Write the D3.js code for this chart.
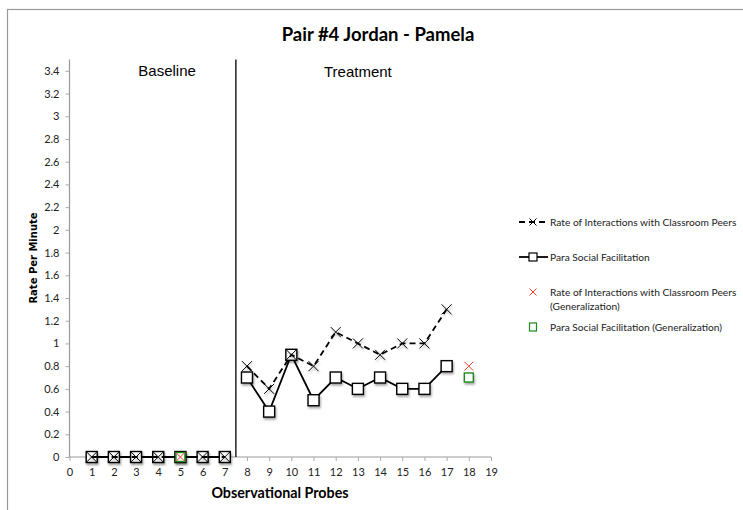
<!DOCTYPE html>
<html>
<head>
<meta charset="utf-8">
<script src="https://cdn.jsdelivr.net/npm/d3@7"></script>
<style>
  body { margin: 0; background: #fff; }
  svg { display: block; }
  .tick-label { font-family: Lato, "Open Sans", sans-serif; font-size: 11px; fill: #222; }
  .legend-text { font-family: Lato, "Open Sans", sans-serif; font-size: 10.2px; fill: #222; }
</style>
</head>
<body>
<div id="chart"></div>
<script>
// Data
const baselineProbes = [1, 2, 3, 4, 5, 6, 7];
const treatmentProbes = [8, 9, 10, 11, 12, 13, 14, 15, 16, 17];
const peersBaseline = [0, 0, 0, 0, 0, 0, 0];
const peersTreatment = [0.8, 0.6, 0.9, 0.8, 1.1, 1.0, 0.9, 1.0, 1.0, 1.3];
const paraBaseline = [0, 0, 0, 0, 0, 0, 0];
const paraTreatment = [0.7, 0.4, 0.9, 0.5, 0.7, 0.6, 0.7, 0.6, 0.6, 0.8];
const genProbes = [5, 18];
const peersGen = [0, 0.8];
const paraGen = [0, 0.7];
const xTicks = d3.range(0, 20);
const yTicks = [0, 0.2, 0.4, 0.6, 0.8, 1, 1.2, 1.4, 1.6, 1.8, 2, 2.2, 2.4, 2.6, 2.8, 3, 3.2, 3.4];
const phaseChange = 7.5;
const legendLabels = [
  ['Rate of Interactions with Classroom Peers'],
  ['Para Social Facilitation'],
  ['Rate of Interactions with Classroom Peers', '(Generalization)'],
  ['Para Social Facilitation (Generalization)']
];

const width = 743, height = 510;

const svg = d3.select('#chart').append('svg')
    .attr('width', width)
    .attr('height', height);

// drop shadow for the markers
const defs = svg.append('defs');
defs.append('filter')
    .attr('id', 'shadow')
    .attr('x', '-50%').attr('y', '-50%')
    .attr('width', '200%').attr('height', '200%')
  .append('feDropShadow')
    .attr('dx', 1).attr('dy', 2)
    .attr('stdDeviation', 0.8)
    .attr('flood-color', '#000')
    .attr('flood-opacity', 0.35);

// outer frame
svg.append('rect')
    .attr('x', 7.5).attr('y', 9.5)
    .attr('width', 800).attr('height', 600)
    .attr('fill', 'none')
    .attr('stroke', '#999')
    .attr('stroke-width', 1.2);

const x = d3.scaleLinear().domain([0, 19]).range([69.5, 491]);
const y = d3.scaleLinear().domain([0, 3.5]).range([457, 59.5]);

// title
svg.append('text')
    .attr('x', 378).attr('y', 41)
    .attr('text-anchor', 'middle')
    .style('font-family', 'Lato, sans-serif')
    .style('font-weight', 'bold')
    .style('font-size', '18.5px')
    .text('Pair #4 Jordan - Pamela');

// y axis
const yAxis = d3.axisLeft(y).tickValues(yTicks).tickSize(4).tickPadding(6)
    .tickFormat(d3.format('~g'));
const yAxisG = svg.append('g')
    .attr('transform', `translate(${x(0)},0)`)
    .call(yAxis);
yAxisG.select('.domain').attr('stroke', '#999').attr('stroke-width', 1.2)
    .attr('d', `M0,${y(3.5)}V${y(0)}`);
yAxisG.selectAll('.tick line').attr('stroke', '#aaa');
yAxisG.selectAll('.tick text').attr('class', 'tick-label').attr('fill', null);

// x axis
const xAxis = d3.axisBottom(x).tickValues(xTicks).tickSize(4).tickPadding(7);
const xAxisG = svg.append('g')
    .attr('transform', `translate(0,${y(0)})`)
    .call(xAxis);
xAxisG.select('.domain').attr('stroke', '#999').attr('stroke-width', 1.2)
    .attr('d', `M${x(0)},0H${x(19)}`);
xAxisG.selectAll('.tick line').attr('stroke', '#aaa');
xAxisG.selectAll('.tick text').attr('class', 'tick-label').attr('fill', null);

// axis titles
svg.append('text')
    .attr('x', 280).attr('y', 498)
    .attr('text-anchor', 'middle')
    .style('font-family', 'Lato, sans-serif')
    .style('font-weight', 'bold')
    .style('font-size', '14.3px')
    .text('Observational Probes');

svg.append('text')
    .attr('transform', `translate(37,${258}) rotate(-90)`)
    .attr('text-anchor', 'middle')
    .style('font-family', '"DejaVu Sans", sans-serif')
    .style('font-weight', 'bold')
    .style('font-size', '10px')
    .text('Rate Per Minute');

// phase change line
svg.append('line')
    .attr('x1', x(phaseChange)).attr('x2', x(phaseChange))
    .attr('y1', y(3.5)).attr('y2', y(0))
    .attr('stroke', '#000')
    .attr('stroke-width', 1.3);

svg.append('text')
    .attr('x', x(4.4)).attr('y', 76)
    .attr('text-anchor', 'middle')
    .style('font-family', '"Liberation Sans", Arial, sans-serif')
    .style('font-size', '15px')
    .text('Baseline');

svg.append('text')
    .attr('x', x(13)).attr('y', 77)
    .attr('text-anchor', 'middle')
    .style('font-family', '"Liberation Sans", Arial, sans-serif')
    .style('font-size', '15px')
    .text('Treatment');

const line = d3.line().x(d => x(d[0])).y(d => y(d[1]));
const zip = (a, b) => a.map((v, i) => [v, b[i]]);

const paraSegments = [zip(baselineProbes, paraBaseline), zip(treatmentProbes, paraTreatment)];
const peersSegments = [zip(baselineProbes, peersBaseline), zip(treatmentProbes, peersTreatment)];

// Para Social Facilitation: solid line + squares
svg.selectAll('.para-line')
    .data(paraSegments)
    .join('path')
    .attr('class', 'para-line')
    .attr('d', line)
    .attr('fill', 'none')
    .attr('stroke', '#000')
    .attr('stroke-width', 1.8);

const sq = 11;
svg.append('g').attr('filter', 'url(#shadow)')
    .selectAll('rect')
    .data(paraSegments.flat())
    .join('rect')
    .attr('x', d => x(d[0]) - sq / 2)
    .attr('y', d => y(d[1]) - sq / 2)
    .attr('width', sq).attr('height', sq)
    .attr('fill', '#fff')
    .attr('stroke', '#000')
    .attr('stroke-width', 1.4);

// Rate of Interactions: dashed line + crosses
svg.selectAll('.peers-line')
    .data(peersSegments)
    .join('path')
    .attr('class', 'peers-line')
    .attr('d', line)
    .attr('fill', 'none')
    .attr('stroke', '#000')
    .attr('stroke-width', 1.8)
    .attr('stroke-dasharray', '6,4');

const cross = (s) => `M${-s},${-s}L${s},${s}M${-s},${s}L${s},${-s}`;
svg.append('g').attr('filter', 'url(#shadow)')
    .selectAll('path')
    .data(peersSegments.flat())
    .join('path')
    .attr('transform', d => `translate(${x(d[0])},${y(d[1])})`)
    .attr('d', cross(5))
    .attr('fill', 'none')
    .attr('stroke', '#000')
    .attr('stroke-width', 1);

// Generalization probes
const gsq = 9;
svg.append('g').attr('filter', 'url(#shadow)')
    .selectAll('rect')
    .data(zip(genProbes, paraGen))
    .join('rect')
    .attr('x', d => x(d[0]) - gsq / 2)
    .attr('y', d => y(d[1]) - gsq / 2)
    .attr('width', gsq).attr('height', gsq)
    .attr('fill', '#fff')
    .attr('stroke', '#1a8a1a')
    .attr('stroke-width', 1.4);

svg.append('g')
    .selectAll('path')
    .data(zip(genProbes, peersGen))
    .join('path')
    .attr('transform', d => `translate(${x(d[0])},${y(d[1])})`)
    .attr('d', cross(4.5))
    .attr('fill', 'none')
    .attr('stroke', '#e8402a')
    .attr('stroke-width', 1);

// legend
const legend = svg.append('g');
const legendY = [222, 257, 292, 327];
const textX = 550, symX = 533;

legend.append('line')
    .attr('x1', 519).attr('x2', 548)
    .attr('y1', legendY[0]).attr('y2', legendY[0])
    .attr('stroke', '#000').attr('stroke-width', 1.8)
    .attr('stroke-dasharray', '6,4');
legend.append('path')
    .attr('transform', `translate(${symX},${legendY[0]})`)
    .attr('d', cross(3.5))
    .attr('stroke', '#000').attr('stroke-width', 1);

legend.append('line')
    .attr('x1', 519).attr('x2', 548)
    .attr('y1', legendY[1]).attr('y2', legendY[1])
    .attr('stroke', '#000').attr('stroke-width', 1.8);
legend.append('rect')
    .attr('x', symX - 4).attr('y', legendY[1] - 4)
    .attr('width', 8).attr('height', 8)
    .attr('fill', '#fff').attr('stroke', '#000').attr('stroke-width', 1.2);

legend.append('path')
    .attr('transform', `translate(${symX},${legendY[2]})`)
    .attr('d', cross(3.5))
    .attr('stroke', '#e8402a').attr('stroke-width', 1);

legend.append('rect')
    .attr('x', symX - 3.5).attr('y', legendY[3] - 4)
    .attr('width', 7).attr('height', 8)
    .attr('fill', '#fff').attr('stroke', '#1a8a1a').attr('stroke-width', 1.2);

legend.selectAll('text')
    .data(legendLabels)
    .join('text')
    .attr('class', 'legend-text')
    .attr('x', textX)
    .attr('y', (d, i) => legendY[i] + 4)
    .selectAll('tspan')
    .data(d => d)
    .join('tspan')
    .attr('x', textX)
    .attr('dy', (d, i) => i === 0 ? 0 : 14)
    .text(d => d);
</script>
</body>
</html>
